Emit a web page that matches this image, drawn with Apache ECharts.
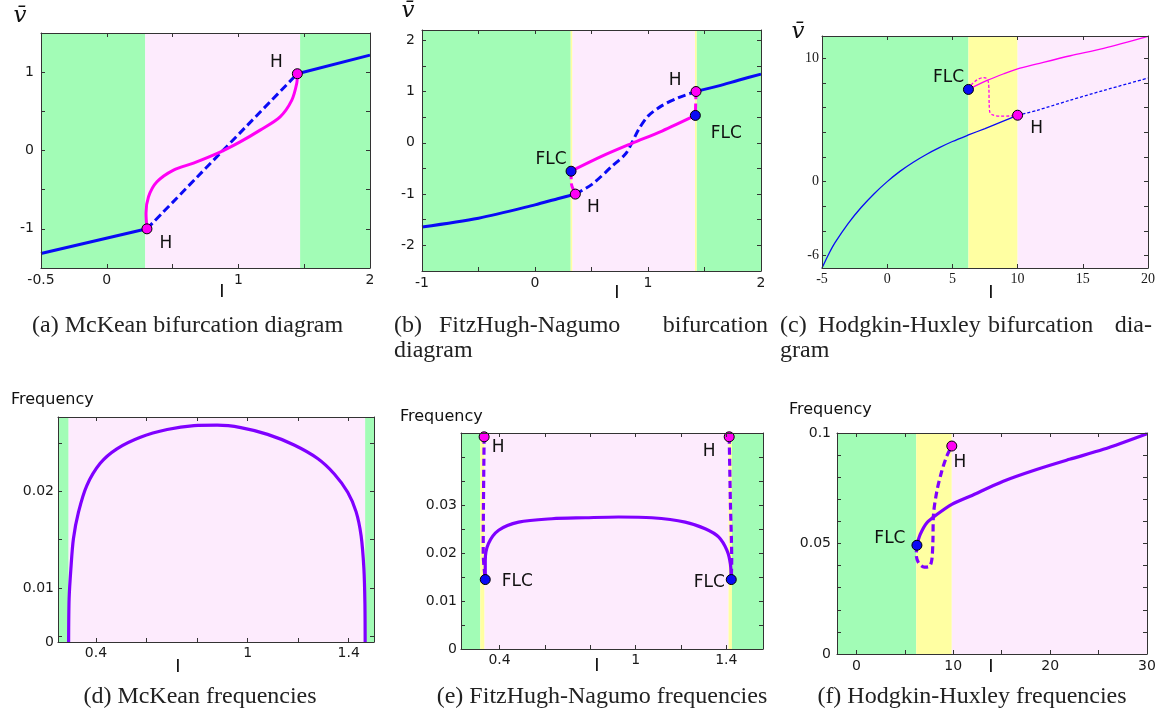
<!DOCTYPE html>
<html>
<head>
<meta charset="utf-8">
<script src="https://cdn.jsdelivr.net/npm/echarts@6/dist/echarts.min.js"></script>
<style>
  html, body { margin: 0; padding: 0; background: #fff; }
  #main { width: 1163px; height: 715px; }
</style>
</head>
<body>
<div id="main"></div>
<script>
  // (a) McKean bifurcation diagram
  const aStableLeft = [[-0.5, -1.315], [0.305, -1.0]];
  const aUnstable = [[0.305, -1.0], [1.448, 0.98]];
  const aStableRight = [[1.448, 0.98], [2, 1.217]];
  const aCycle = [[0.305, -1.0], [0.298, -0.8], [0.317, -0.59], [0.381, -0.4], [0.507, -0.25], [0.659, -0.16],
    [0.861, -0.02], [1.013, 0.11], [1.165, 0.26], [1.317, 0.43], [1.405, 0.64], [1.443, 0.855], [1.448, 0.98]];
  const aHopf = [[0.305, -1.0], [1.448, 0.98]];
  const aBandEdges = [-0.5, 0.292, 1.469, 2];
  const aBandKinds = ['stable', 'osc', 'stable'];
  const aXTicks = [-0.5, 0, 0.5, 1, 1.5, 2], aXLabels = [-0.5, 0, 1, 2];
  const aYTicks = [-1.5, -1, -0.5, 0, 0.5, 1, 1.5], aYLabels = [-1, 0, 1];

  // (b) FitzHugh-Nagumo bifurcation diagram
  const bStableLeft = [[-1, -1.64], [-0.5, -1.47], [0, -1.21], [0.2, -1.09], [0.357, -1.0]];
  const bUnstable = [[0.357, -1.0], [0.504, -0.81], [0.68, -0.46], [0.8, -0.22], [0.858, 0], [0.917, 0.26],
    [1.0, 0.52], [1.12, 0.72], [1.27, 0.88], [1.425, 1.0]];
  const bStableRight = [[1.425, 1.0], [1.625, 1.11], [1.8, 1.22], [2, 1.34]];
  const bCycle = [[0.319, -0.554], [0.593, -0.26], [0.858, -0.01], [1.124, 0.23], [1.419, 0.534]];
  const bCycleUnstLeft = [[0.319, -0.554], [0.322, -0.8], [0.357, -1.0]];
  const bCycleUnstRight = [[1.425, 1.0], [1.419, 0.534]];
  const bHopf = [[0.357, -1.0], [1.425, 1.0]];
  const bFold = [[0.319, -0.554], [1.419, 0.534]];
  const bBandEdges = [-1, 0.316, 0.332, 1.416, 1.432, 2];
  const bBandKinds = ['stable', 'bistable', 'osc', 'bistable', 'stable'];
  const bXTicks = [-1, -0.5, 0, 0.5, 1, 1.5, 2], bXLabels = [-1, 0, 1, 2];
  const bYTicks = [-2.5, -2, -1.5, -1, -0.5, 0, 0.5, 1, 1.5, 2], bYLabels = [-2, -1, 0, 1, 2];

  // (c) Hodgkin-Huxley bifurcation diagram
  const cStable = [[-5, -7], [-4.5, -5.9], [-4, -4.95], [-3, -3.4], [-2, -2.1], [-1, -0.98], [0, 0], [1, 0.85],
    [2, 1.57], [3, 2.2], [4, 2.75], [5, 3.25], [6.23, 3.78], [7.5, 4.3], [8.9, 4.9], [10, 5.38]];
  const cUnstable = [[10, 5.38], [11.5, 5.78], [14, 6.59], [16.6, 7.39], [20, 8.39]];
  const cCycle = [[6.23, 7.47], [7.66, 8.2], [8.94, 8.74], [10, 9.14], [11.5, 9.54], [14.05, 10.2], [16.6, 10.8], [20, 11.77]];
  const cCycleUnst = [[6.23, 7.47], [6.5, 7.9], [6.9, 8.25], [7.3, 8.42], [7.6, 8.38], [7.75, 8.1], [7.8, 7.5],
    [7.82, 6.3], [7.88, 5.6], [8.1, 5.4], [8.7, 5.3], [9.4, 5.32], [10, 5.38]];
  const cHopf = [[10, 5.38]];
  const cFold = [[6.23, 7.47]];
  const cBandEdges = [-5, 6.23, 10, 20];
  const cBandKinds = ['stable', 'bistable', 'osc'];
  const cXTicks = [-5, 0, 5, 10, 15, 20], cXLabels = [-5, 0, 5, 10, 15, 20];
  const cYTicks = [-6, -4, -2, 0, 2, 4, 6, 8, 10], cYLabels = [-6, 0, 10];

  // (d) McKean frequencies
  const dFloor = 0.0044;
  const dFreq = [[0.292, 0.0044], [0.294, 0.0089], [0.301, 0.012], [0.311, 0.0151], [0.331, 0.01785], [0.364, 0.0206],
    [0.417, 0.0229], [0.483, 0.0244], [0.576, 0.0256], [0.682, 0.0264], [0.788, 0.0268], [0.88, 0.02685],
    [0.973, 0.0266], [1.079, 0.0259], [1.184, 0.0248], [1.277, 0.0234], [1.343, 0.0218], [1.396, 0.0199],
    [1.429, 0.0179], [1.449, 0.0154], [1.46, 0.012], [1.464, 0.0085], [1.465, 0.0044]];
  const dBandEdges = [0.25, 0.292, 1.465, 1.5];
  const dBandKinds = ['stable', 'osc', 'stable'];
  const dXTicks = [0.4, 0.6, 0.8, 1, 1.2, 1.4], dXLabels = [0.4, 1, 1.4];
  const dYTicks = [0.005, 0.01, 0.015, 0.02, 0.025], dYLabels = [dFloor, 0.01, 0.02];

  // (e) FitzHugh-Nagumo frequencies
  const eStable = [[0.337, 0.0145], [0.337, 0.0185], [0.351, 0.022], [0.396, 0.0248], [0.484, 0.0265], [0.631, 0.0272],
    [0.778, 0.0274], [0.925, 0.02756], [1.072, 0.0274], [1.219, 0.0265], [1.307, 0.0251], [1.366, 0.0234],
    [1.403, 0.0206], [1.418, 0.0178], [1.422, 0.0145]];
  const eUnstLeft = [[0.332, 0.0443], [0.329, 0.03], [0.328, 0.02], [0.337, 0.0145]];
  const eUnstRight = [[1.413, 0.0443], [1.418, 0.031], [1.424, 0.0185], [1.422, 0.0145]];
  const eHopf = [[0.332, 0.0443], [1.413, 0.0443]];
  const eFold = [[0.337, 0.0145], [1.422, 0.0145]];
  const eBandEdges = [0.23, 0.315, 0.334, 1.41, 1.425, 1.562];
  const eBandKinds = ['stable', 'bistable', 'osc', 'bistable', 'stable'];
  const eXTicks = [0.4, 0.6, 0.8, 1, 1.2, 1.4], eXLabels = [0.4, 1, 1.4];
  const eYTicks = [0, 0.005, 0.01, 0.015, 0.02, 0.025, 0.03, 0.035, 0.04], eYLabels = [0, 0.01, 0.02, 0.03];

  // (f) Hodgkin-Huxley frequencies
  const fStable = [[6.25, 0.0492], [6.59, 0.0541], [7.28, 0.0594], [8.31, 0.0631], [9.85, 0.0677], [11.74, 0.0714],
    [15.17, 0.0782], [18.6, 0.0835], [22, 0.0881], [25.5, 0.0926], [30, 0.0997]];
  const fUnstable = [[6.25, 0.0492], [6.18, 0.045], [6.42, 0.0412], [7.0, 0.0393], [7.55, 0.0397], [7.79, 0.0427],
    [7.9, 0.051], [7.96, 0.0631], [8.31, 0.0737], [8.82, 0.0828], [9.34, 0.0896], [9.85, 0.0941]];
  const fHopf = [[9.85, 0.0941]];
  const fFold = [[6.25, 0.0492]];
  const fBandEdges = [-2, 6.18, 9.85, 30];
  const fBandKinds = ['stable', 'bistable', 'osc'];
  const fXTicks = [0, 5, 10, 15, 20, 25, 30], fXLabels = [0, 10, 20, 30];
  const fYTicks = [0, 0.01, 0.02, 0.03, 0.04, 0.05, 0.06, 0.07, 0.08, 0.09, 0.1], fYLabels = [0, 0.05, 0.1];

  const GREEN = '#a2fcb6', YELLOW = '#ffffa2', PINK = '#fdebfd';
  const BLUE = '#0a0af5', MAGENTA = '#ff00f5', PURPLE = '#7f00ff';
  const bandColor = { stable: GREEN, bistable: YELLOW, osc: PINK };
  const SANS = 'DejaVu Sans', SERIF = 'Liberation Serif';

  const panels = [
    { grid: { left: 41, top: 33, width: 329, height: 235 }, x: { min: -0.5, max: 2, ticks: aXTicks, labels: aXLabels },
      y: { min: -1.5, max: 1.5, ticks: aYTicks, labels: aYLabels }, edges: aBandEdges, kinds: aBandKinds, font: SANS, size: 14, xm: 5, ym: 7 },
    { grid: { left: 422, top: 30, width: 339, height: 241 }, x: { min: -1, max: 2, ticks: bXTicks, labels: bXLabels },
      y: { min: -2.5, max: 2.2, ticks: bYTicks, labels: bYLabels }, edges: bBandEdges, kinds: bBandKinds, font: SANS, size: 14, xm: 5, ym: 7 },
    { grid: { left: 822, top: 36, width: 326, height: 232 }, x: { min: -5, max: 20, ticks: cXTicks, labels: cXLabels },
      y: { min: -7, max: 11.8, ticks: cYTicks, labels: cYLabels }, edges: cBandEdges, kinds: cBandKinds, font: SERIF, size: 14, xm: 4, ym: 3 },
    { grid: { left: 58, top: 417, width: 316, height: 225 }, x: { min: 0.25, max: 1.5, ticks: dXTicks, labels: dXLabels },
      y: { min: dFloor, max: 0.0277, ticks: dYTicks, labels: dYLabels }, edges: dBandEdges, kinds: dBandKinds, font: SANS, size: 14, xm: 4, ym: 4 },
    { grid: { left: 461, top: 433, width: 302, height: 216 }, x: { min: 0.23, max: 1.562, ticks: eXTicks, labels: eXLabels },
      y: { min: 0, max: 0.0451, ticks: eYTicks, labels: eYLabels }, edges: eBandEdges, kinds: eBandKinds, font: SANS, size: 14, xm: 4, ym: 4 },
    { grid: { left: 837, top: 433, width: 310, height: 221 }, x: { min: -2, max: 30, ticks: fXTicks, labels: fXLabels },
      y: { min: 0, max: 0.1, ticks: fYTicks, labels: fYLabels }, edges: fBandEdges, kinds: fBandKinds, font: SANS, size: 14, xm: 5, ym: 6 }
  ];

  function tickText(v) {
    if (v === dFloor) return '0';
    return String(Math.round(v * 10000) / 10000);
  }

  function axis(p, pos, cfg, withLabel, panel) {
    return {
      type: 'value', gridIndex: p, position: pos, min: cfg.min, max: cfg.max, z: 6,
      axisLine: { show: true, onZero: false, lineStyle: { color: '#333', width: 1 } },
      axisTick: { show: true, inside: true, length: 4, lineStyle: { color: '#333', width: 1 }, customValues: cfg.ticks },
      axisLabel: {
        show: withLabel, customValues: cfg.labels, formatter: tickText, color: '#1a1a1a',
        fontFamily: panel.font, fontSize: panel.size, margin: pos === 'bottom' ? panel.xm : panel.ym
      },
      splitLine: { show: false }
    };
  }

  const grid = [], xAxis = [], yAxis = [], series = [];
  panels.forEach((pn, p) => {
    grid.push(Object.assign({ containLabel: false, outerBoundsMode: 'none' }, pn.grid));
    xAxis.push(axis(p, 'bottom', pn.x, true, pn), axis(p, 'top', pn.x, false, pn));
    yAxis.push(axis(p, 'left', pn.y, true, pn), axis(p, 'right', pn.y, false, pn));
    series.push({
      type: 'line', xAxisIndex: 2 * p, yAxisIndex: 2 * p, data: [], silent: true,
      markArea: {
        silent: true,
        data: pn.kinds.map((k, i) => [
          { xAxis: pn.edges[i], itemStyle: { color: bandColor[k], opacity: 1, borderWidth: 0 } },
          { xAxis: pn.edges[i + 1] }
        ])
      }
    });
  });

  function curve(p, data, color, width, dash) {
    series.push({
      type: 'line', xAxisIndex: 2 * p, yAxisIndex: 2 * p, data: data, symbol: 'none', smooth: 0.3,
      silent: true, z: 3, lineStyle: { color: color, width: width, type: dash || 'solid', cap: 'butt' }
    });
  }

  function markers(p, pts, color, text, offsets) {
    series.push({
      type: 'scatter', xAxisIndex: 2 * p, yAxisIndex: 2 * p, symbolSize: 10, z: 5, silent: true,
      itemStyle: { color: color, borderColor: '#000', borderWidth: 1, opacity: 1 },
      data: pts.map((pt, i) => ({
        value: pt,
        label: { show: true, position: 'inside', formatter: text, offset: offsets[i],
          color: '#111', fontFamily: SANS, fontSize: 17 }
      }))
    });
  }

  const thickDash = [8, 4], thinDash = [3, 2], freqDash = [7, 4];

  curve(0, aStableLeft, BLUE, 3);
  curve(0, aStableRight, BLUE, 3);
  curve(0, aUnstable, BLUE, 3, thickDash);
  curve(0, aCycle, MAGENTA, 3);
  markers(0, aHopf, MAGENTA, 'H', [[19, 15], [-21, -11]]);

  curve(1, bStableLeft, BLUE, 3);
  curve(1, bStableRight, BLUE, 3);
  curve(1, bUnstable, BLUE, 3, thickDash);
  curve(1, bCycle, MAGENTA, 3);
  curve(1, bCycleUnstLeft, MAGENTA, 3, thickDash);
  curve(1, bCycleUnstRight, MAGENTA, 3, thickDash);
  markers(1, bHopf, MAGENTA, 'H', [[18, 13], [-21, -11]]);
  markers(1, bFold, BLUE, 'FLC', [[-20, -12], [31, 18]]);

  curve(2, cStable, BLUE, 1.3);
  curve(2, cUnstable, BLUE, 1.3, thinDash);
  curve(2, cCycle, MAGENTA, 1.3);
  curve(2, cCycleUnst, MAGENTA, 1.3, thinDash);
  markers(2, cHopf, MAGENTA, 'H', [[19, 13]]);
  markers(2, cFold, BLUE, 'FLC', [[-20, -12]]);

  curve(3, dFreq, PURPLE, 3.2);

  curve(4, eStable, PURPLE, 3.2);
  curve(4, eUnstLeft, PURPLE, 3.2, freqDash);
  curve(4, eUnstRight, PURPLE, 3.2, freqDash);
  markers(4, eHopf, MAGENTA, 'H', [[14, 11], [-20, 15]]);
  markers(4, eFold, BLUE, 'FLC', [[32, 2], [-22, 3]]);

  curve(5, fStable, PURPLE, 3.2);
  curve(5, fUnstable, PURPLE, 3.2, freqDash);
  markers(5, fHopf, MAGENTA, 'H', [[8, 17]]);
  markers(5, fFold, BLUE, 'FLC', [[-27, -7]]);

  function txt(x, y, s, style) {
    return { type: 'text', x: x, y: y, silent: true,
      style: Object.assign({ text: s, fill: '#111', textVerticalAlign: 'middle' }, style) };
  }
  const cap = { fontFamily: SERIF, fontSize: 24, fill: '#222' };
  const capR = Object.assign({ textAlign: 'right' }, cap);
  const capC = Object.assign({ textAlign: 'center' }, cap);
  const axName = { fontFamily: SANS, fontSize: 18, textAlign: 'center' };
  const vbar = { fontFamily: 'DejaVu Serif', fontStyle: 'italic', fontSize: 23, textAlign: 'center' };
  const freqName = { fontFamily: SANS, fontSize: 16 };

  const graphic = [
    txt(20, 16, 'v\u0304', vbar), txt(408, 11, 'v\u0304', vbar), txt(798, 32, 'v\u0304', vbar),
    txt(222, 292, 'I', axName), txt(617, 293, 'I', axName), txt(991, 293, 'I', axName),
    txt(178, 667, 'I', axName), txt(597, 666, 'I', axName), txt(991, 667, 'I', axName),
    txt(11, 400, 'Frequency', freqName), txt(400, 417, 'Frequency', freqName), txt(789, 410, 'Frequency', freqName),
    txt(32, 326, '(a) McKean bifurcation diagram', cap),
    txt(394, 326, '(b)', cap), txt(439, 326, 'FitzHugh-Nagumo', cap),
    txt(768, 326, 'bifurcation', capR),
    txt(394, 351, 'diagram', cap),
    txt(780, 326, '(c)', cap), txt(818, 326, 'Hodgkin-Huxley', cap),
    txt(988, 326, 'bifurcation', cap), txt(1152, 326, 'dia-', capR),
    txt(780, 351, 'gram', cap),
    txt(200, 697, '(d) McKean frequencies', capC),
    txt(602, 697, '(e) FitzHugh-Nagumo frequencies', capC),
    txt(972, 697, '(f) Hodgkin-Huxley frequencies', capC)
  ];

  const myChart = echarts.init(document.getElementById('main'), null, { renderer: 'canvas' });
  myChart.setOption({
    animation: false,
    backgroundColor: '#fff',
    grid: grid,
    xAxis: xAxis,
    yAxis: yAxis,
    series: series,
    graphic: graphic
  });
  window.addEventListener('resize', myChart.resize);
</script>
</body>
</html>
